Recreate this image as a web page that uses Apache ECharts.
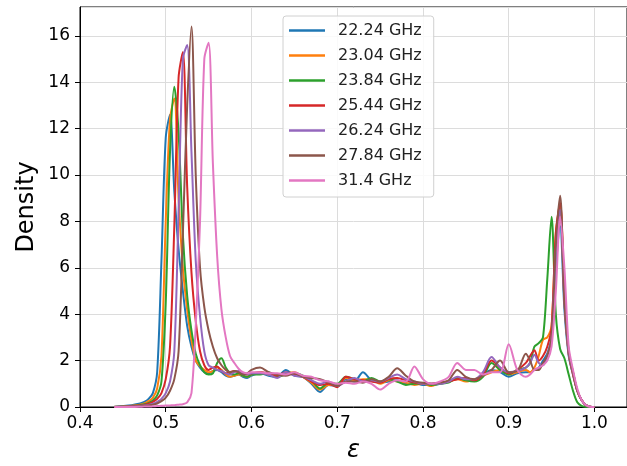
<!DOCTYPE html>
<html>
<head>
<meta charset="utf-8">
<script src="https://cdn.jsdelivr.net/npm/echarts@6/dist/echarts.min.js"></script>
<style>
  html, body { margin: 0; padding: 0; background: #fff; }
  #chart { width: 627px; height: 466px; }
</style>
</head>
<body>
<div id="chart"></div>
<script>
// epsilon grid shared by all curves
var eps = [0.44,0.45,0.46,0.47,0.475,0.48,0.485,0.49,0.495,0.50,0.505,0.51,0.515,0.52,0.525,0.53,0.535,0.54,0.545,0.55,0.555,0.56,0.565,0.57,0.575,0.58,0.585,0.59,0.595,0.60,
    0.61,0.62,0.63,0.64,0.65,0.66,0.67,0.68,0.69,0.70,0.71,0.72,0.73,0.74,0.75,0.76,0.77,0.78,0.79,0.80,0.81,0.82,0.83,0.84,0.85,0.86,0.87,0.88,0.89,0.90,0.91,0.92,
    0.925,0.93,0.935,0.94,0.945,0.95,0.955,0.96,0.965,0.97,0.975,0.98,0.985,0.99,0.995,1.0];

var labels = ['22.24 GHz', '23.04 GHz', '23.84 GHz', '25.44 GHz', '26.24 GHz', '27.84 GHz', '31.4 GHz'];
var colors = ['#1f77b4', '#ff7f0e', '#2ca02c', '#d62728', '#9467bd', '#8c564b', '#e377c2'];

var d2224 = [0.01,0.04,0.08,0.15,0.22,0.35,0.6,1.5,6.3,11.6,12.6,9.3,6.8,5.0,3.5,2.6,2.0,1.7,1.5,1.45,1.55,1.6,1.5,1.35,1.3,1.35,1.4,1.3,1.25,1.35,
    1.45,1.35,1.3,1.6,1.35,1.3,1.0,0.65,0.95,0.9,1.2,1.1,1.5,1.15,1.05,1.1,1.15,1.0,1.05,0.95,0.95,1.0,1.1,1.25,1.2,1.15,1.4,1.6,1.5,1.3,1.45,1.5,
    1.5,1.6,1.7,2.0,2.3,3.0,6.0,7.8,4.2,2.2,1.4,0.7,0.3,0.08,0.01,0];
var d2304 = [0.01,0.02,0.05,0.1,0.15,0.25,0.4,0.8,2.2,8.0,12.4,13.3,9.0,6.0,4.2,2.9,2.0,1.75,1.6,1.5,1.55,1.7,1.6,1.4,1.3,1.35,1.4,1.35,1.3,1.4,
    1.5,1.4,1.35,1.45,1.5,1.3,1.05,0.75,0.95,0.95,1.25,1.15,1.2,1.2,1.0,1.15,1.1,1.05,0.95,1.0,0.9,1.05,1.1,1.2,1.1,1.2,1.35,1.5,1.6,1.4,1.5,1.6,
    1.5,1.7,2.2,2.9,3.0,3.5,7.5,8.7,4.6,2.3,1.5,0.7,0.3,0.08,0.01,0];
var d2384 = [0.0,0.02,0.04,0.08,0.12,0.18,0.28,0.5,1.1,4.5,11.0,13.8,11.8,7.4,4.8,3.3,2.3,1.8,1.5,1.4,1.45,1.9,2.1,1.7,1.45,1.4,1.45,1.35,1.3,1.4,
    1.4,1.5,1.3,1.4,1.45,1.35,1.15,0.8,1.05,1.0,1.3,1.2,1.1,1.25,1.1,1.2,1.1,0.95,1.0,1.0,0.95,1.0,1.05,1.25,1.15,1.1,1.3,1.9,1.6,1.4,1.6,1.7,
    1.9,2.6,2.75,3.0,5.5,8.2,4.0,2.5,2.1,1.4,0.7,0.2,0.05,0.01,0,0];
var d2544 = [0.0,0.01,0.03,0.06,0.09,0.14,0.22,0.35,0.6,1.2,2.6,7.8,14.2,15.3,9.5,5.8,3.7,2.4,1.8,1.6,1.7,1.75,1.55,1.45,1.5,1.55,1.5,1.45,1.4,1.45,
    1.5,1.45,1.35,1.5,1.4,1.3,1.1,0.95,1.0,0.85,1.3,1.2,1.15,1.1,1.05,1.2,1.25,1.15,1.05,1.0,1.0,1.05,1.1,1.2,1.25,1.15,1.4,2.0,1.7,1.45,1.6,1.9,
    2.2,2.45,2.0,2.2,2.6,3.4,7.5,8.8,4.8,2.3,1.4,0.7,0.3,0.08,0.01,0];
var d2624 = [0.0,0.01,0.02,0.04,0.06,0.09,0.14,0.22,0.35,0.6,1.1,2.4,8.5,15.0,15.6,11.0,6.3,3.9,2.4,1.8,1.7,1.6,1.55,1.45,1.4,1.5,1.55,1.45,1.4,1.45,
    1.45,1.4,1.25,1.5,1.35,1.3,1.15,1.0,1.1,0.9,1.1,1.25,1.1,1.15,1.1,1.25,1.4,1.2,1.1,1.0,1.0,1.0,1.1,1.3,1.2,1.2,1.5,2.15,1.7,1.5,1.55,1.7,
    1.9,2.25,1.9,1.8,2.2,3.0,6.8,8.5,4.6,2.3,1.5,0.7,0.3,0.08,0.01,0];
var d2784 = [0.0,0.0,0.01,0.03,0.05,0.07,0.1,0.15,0.25,0.4,0.7,1.2,2.4,7.5,13.0,16.4,10.0,6.0,4.3,3.3,2.6,2.1,1.8,1.6,1.5,1.55,1.5,1.4,1.45,1.6,
    1.7,1.5,1.4,1.35,1.45,1.3,1.25,1.2,1.05,0.9,1.1,1.1,1.05,1.2,1.1,1.3,1.67,1.35,1.1,1.05,1.0,1.05,1.15,1.6,1.3,1.2,1.35,1.6,2.0,1.5,1.55,2.3,
    2.0,1.6,1.6,1.9,2.2,3.0,7.0,9.1,4.5,2.4,1.5,0.7,0.3,0.08,0.01,0];
var d3140 = [0.0,0.0,0.0,0.01,0.02,0.02,0.03,0.04,0.05,0.06,0.07,0.08,0.1,0.12,0.2,0.6,3.5,8.0,15.0,15.7,10.5,6.5,4.2,3.0,2.2,1.9,1.65,1.5,1.45,1.5,
    1.5,1.45,1.45,1.4,1.5,1.35,1.3,1.15,1.1,1.0,1.05,1.0,1.1,1.0,0.75,1.0,1.15,1.1,1.75,1.2,1.0,1.1,1.3,1.9,1.6,1.6,1.4,1.5,1.5,2.7,1.6,1.3,
    1.4,1.6,1.7,1.8,2.0,2.6,5.0,8.2,6.0,2.6,1.6,0.8,0.3,0.08,0.01,0];

var densities = [d2224, d2304, d2384, d2544, d2624, d2784, d3140];

var font = 'DejaVu Sans';
var chart = echarts.init(document.getElementById('chart'));

var series = labels.map(function (name, k) {
    return {
        name: name,
        type: 'line',
        smooth: 0.3,
        symbol: 'none',
        lineStyle: { width: 2, color: colors[k] },
        itemStyle: { color: colors[k] },
        data: eps.map(function (x, i) { return [x, densities[k][i]]; })
    };
});

var option = {
    animation: false,
    textStyle: { fontFamily: font },
    grid: {
        left: 80, top: 7, right: 0, bottom: 59,
        containLabel: false,
        outerBoundsMode: 'none',
        show: true, borderColor: '#000', borderWidth: 1
    },
    legend: {
        orient: 'vertical',
        left: 283, top: 16,
        data: labels,
        icon: 'rect',
        itemWidth: 36, itemHeight: 2.5, itemGap: 6,
        padding: [5, 12, 7, 6],
        backgroundColor: 'rgba(255,255,255,0.85)',
        borderColor: '#d0d0d0', borderWidth: 1, borderRadius: 3,
        textStyle: { fontFamily: font, fontSize: 16, lineHeight: 19, color: '#222', padding: [0, 0, 0, 8] }
    },
    xAxis: {
        type: 'value',
        min: 0.4, max: 1.038, interval: 0.1,
        name: 'ε',
        nameLocation: 'middle',
        nameGap: 32,
        nameMoveOverlap: false,
        nameTextStyle: { fontFamily: font, fontSize: 24, fontStyle: 'italic', color: '#000' },
        axisLine: { lineStyle: { color: '#000', width: 1 } },
        axisTick: { show: true, length: 5, lineStyle: { color: '#000' } },
        axisLabel: {
            fontFamily: font, fontSize: 17, color: '#000', margin: 8,
            showMaxLabel: false,
            formatter: function (v) { return v.toFixed(1); }
        },
        splitLine: { show: true, lineStyle: { color: '#dcdcdc', width: 1 } }
    },
    yAxis: {
        type: 'value',
        min: 0, max: 17.24, interval: 2,
        name: 'Density',
        nameLocation: 'middle',
        nameGap: 41,
        nameMoveOverlap: false,
        nameTextStyle: { fontFamily: font, fontSize: 24, color: '#000' },
        axisLine: { show: true, lineStyle: { color: '#000', width: 1 } },
        axisTick: { show: true, length: 5, lineStyle: { color: '#000' } },
        axisLabel: { fontFamily: font, fontSize: 17, color: '#000', margin: 10, showMaxLabel: false },
        splitLine: { show: true, lineStyle: { color: '#dcdcdc', width: 1 } }
    },
    series: series
};

chart.setOption(option);
</script>
</body>
</html>
